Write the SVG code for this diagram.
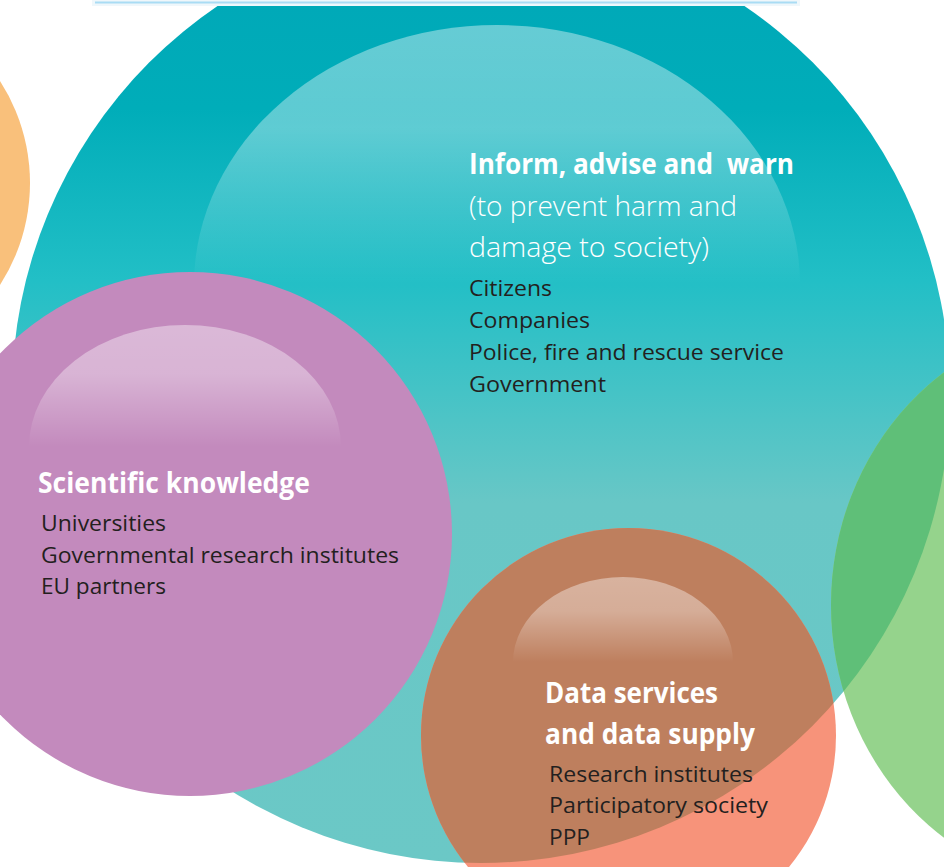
<svg xmlns="http://www.w3.org/2000/svg" width="944" height="867" viewBox="0 0 944 867">
<style>
  .h { font-family: "Open Sans", "Noto Sans", "Liberation Sans", sans-serif; font-weight: 700; font-size: 28px; fill: #ffffff; white-space: pre; }
  .l { font-family: "Open Sans", "Noto Sans", "Liberation Sans", sans-serif; font-weight: 300; font-size: 28px; fill: #ffffff; }
  .t { font-family: "Open Sans", "Noto Sans", "Liberation Sans", sans-serif; font-weight: 400; font-size: 22px; fill: #231f20; }
</style>
<defs>
  <linearGradient id="tealGrad" gradientUnits="userSpaceOnUse" x1="0" y1="6" x2="0" y2="863">
    <stop offset="0" stop-color="#00a9b8"/>
    <stop offset="0.12" stop-color="#00adb9"/>
    <stop offset="0.32" stop-color="#22bfc6"/>
    <stop offset="0.58" stop-color="#68c7c6"/>
    <stop offset="1" stop-color="#6bc8c6"/>
  </linearGradient>
  <linearGradient id="gloss" x1="0" y1="0" x2="0" y2="1">
    <stop offset="0" stop-color="#ffffff" stop-opacity="0.4"/>
    <stop offset="0.2" stop-color="#ffffff" stop-opacity="0.36"/>
    <stop offset="0.5" stop-color="#ffffff" stop-opacity="0"/>
    <stop offset="1" stop-color="#ffffff" stop-opacity="0"/>
  </linearGradient>
  <clipPath id="belowBar"><rect x="0" y="6" width="944" height="861"/></clipPath>
  <clipPath id="tealClip"><circle cx="481" cy="394" r="469"/></clipPath>
</defs>

<g id="top-bar">
  <rect x="92" y="0" width="708" height="6" fill="#eff7fb"/>
  <line x1="95" y1="2.5" x2="797" y2="2.5" stroke="#a9dcf4" stroke-width="2"/>
</g>

<g id="orange-circle">
  <circle cx="-158" cy="183" r="188" fill="#f9c07b"/>
</g>

<g id="inform-advise-warn">
  <g clip-path="url(#belowBar)">
    <circle cx="481" cy="394" r="469" fill="url(#tealGrad)"/>
    <ellipse cx="497" cy="285" rx="303" ry="260" fill="url(#gloss)"/>
  </g>
  <text class="h" x="469" y="174" textLength="325" lengthAdjust="spacingAndGlyphs">Inform, advise and  warn</text>
  <text class="l" x="469" y="216" textLength="268" lengthAdjust="spacingAndGlyphs">(to prevent harm and</text>
  <text class="l" x="469" y="257" textLength="240" lengthAdjust="spacingAndGlyphs">damage to society)</text>
  <text class="t" x="469" y="296" textLength="83" lengthAdjust="spacingAndGlyphs">Citizens</text>
  <text class="t" x="469" y="328" textLength="121" lengthAdjust="spacingAndGlyphs">Companies</text>
  <text class="t" x="469" y="360" textLength="315" lengthAdjust="spacingAndGlyphs">Police, fire and rescue service</text>
  <text class="t" x="469" y="392" textLength="137" lengthAdjust="spacingAndGlyphs">Government</text>
</g>

<g id="green-ellipse">
  <ellipse cx="1098" cy="605" rx="267" ry="285" fill="#95d38c"/>
  <g clip-path="url(#tealClip)">
    <ellipse cx="1098" cy="605" rx="267" ry="285" fill="#5fbf78"/>
  </g>
</g>

<g id="scientific-knowledge">
  <circle cx="190" cy="534" r="262" fill="#c38abd"/>
  <ellipse cx="185" cy="447" rx="156" ry="122" fill="url(#gloss)"/>
  <text class="h" x="38" y="493" textLength="272" lengthAdjust="spacingAndGlyphs">Scientific knowledge</text>
  <text class="t" x="41" y="531" textLength="125" lengthAdjust="spacingAndGlyphs">Universities</text>
  <text class="t" x="41" y="563" textLength="358" lengthAdjust="spacingAndGlyphs">Governmental research institutes</text>
  <text class="t" x="41" y="594" textLength="125" lengthAdjust="spacingAndGlyphs">EU partners</text>
</g>

<g id="data-services">
  <circle cx="628.5" cy="735.5" r="207.5" fill="#f7937a"/>
  <g clip-path="url(#tealClip)">
    <circle cx="628.5" cy="735.5" r="207.5" fill="#be7f5e"/>
  </g>
  <ellipse cx="623" cy="662" rx="110" ry="85" fill="url(#gloss)"/>
  <text class="h" x="545" y="703" textLength="173" lengthAdjust="spacingAndGlyphs">Data services</text>
  <text class="h" x="545" y="744" textLength="210" lengthAdjust="spacingAndGlyphs">and data supply</text>
  <text class="t" x="549" y="782" textLength="204" lengthAdjust="spacingAndGlyphs">Research institutes</text>
  <text class="t" x="549" y="813" textLength="219" lengthAdjust="spacingAndGlyphs">Participatory society</text>
  <text class="t" x="549" y="845" textLength="41" lengthAdjust="spacingAndGlyphs">PPP</text>
</g>

<g id="connectors"/>
</svg>
